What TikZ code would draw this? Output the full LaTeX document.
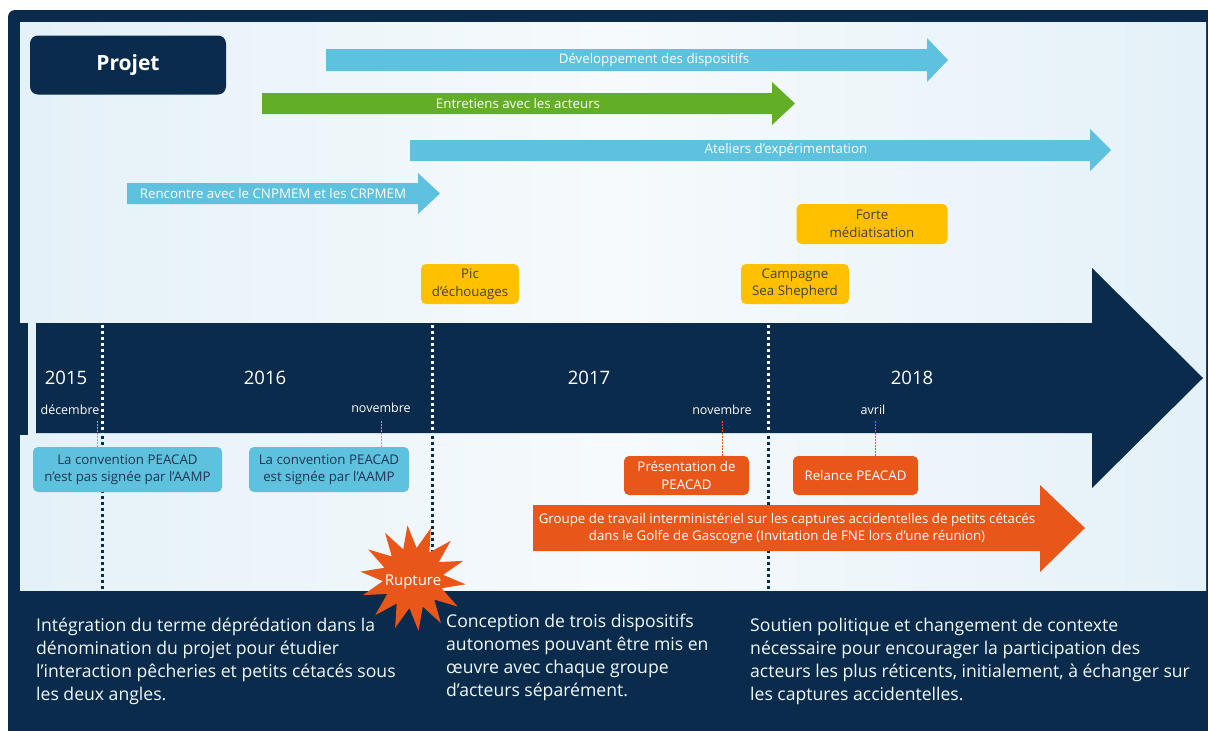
\documentclass[tikz,border=0pt]{standalone}
\usepackage{fontspec}
\setmainfont{Open Sans}
\usetikzlibrary{shapes.geometric, positioning}

\definecolor{navy}{HTML}{0A2B4C}
\definecolor{skyblue}{HTML}{5EC1DD}
\definecolor{leafgreen}{HTML}{63AE27}
\definecolor{sunyellow}{HTML}{FFC000}
\definecolor{burnt}{HTML}{E8561A}
\definecolor{panel}{HTML}{F6FAFC}
\definecolor{paneledge}{HTML}{E4F1F8}
\definecolor{boxtext}{HTML}{1F3552}

\begin{document}
\begin{tikzpicture}[x=1pt, y=-1pt]
    \tikzstyle{arrowtext} = [text=white, font=\fontsize{13.3}{17}\selectfont, inner sep=0, align=center]
    \tikzstyle{event} = [rounded corners=5pt, align=center, font=\fontsize{13.3}{17.5}\selectfont, inner sep=0]
    \tikzstyle{blueevent} = [event, fill=skyblue, text=boxtext, minimum height=45]
    \tikzstyle{yellowevent} = [event, fill=sunyellow, text=black!75, minimum height=40]
    \tikzstyle{orangeevent} = [event, fill=burnt, text=white, minimum height=39, minimum width=125]
    \tikzstyle{year} = [text=white, font=\fontsize{18.5}{21}\selectfont, inner sep=0]
    \tikzstyle{month} = [text=white, font=\fontsize{12.5}{14}\selectfont, inner sep=0]
    \tikzstyle{story} = [text=white!92!skyblue, align=left, anchor=base west, font=\fontsize{17.6}{23}\selectfont, inner sep=0]
    \tikzstyle{divider} = [line width=3pt, dash pattern=on 3pt off 3pt]
    \tikzstyle{bluelink} = [skyblue, line width=1pt, dash pattern=on 1.5pt off 1.5pt]
    \tikzstyle{orangelink} = [burnt, line width=1pt, dash pattern=on 1.5pt off 1.5pt]

    % frame, panel and timeline band
    \useasboundingbox (0,0) rectangle (1208,731);
    \fill[white] (0,0) rectangle (1208,731);
    \fill[navy] (8,731) [rounded corners=7pt] -- (8,10) [sharp corners] -- (1208,10) -- (1208,731) -- cycle;
    \shade[left color=paneledge, right color=paneledge, middle color=panel] (20,22) rectangle (1206,590);
    \fill[navy] (20,323) rectangle (28,435);
    \fill[navy] (36,323) -- (1092,323) -- (1092,268) -- (1203,378) -- (1092,488) -- (1092,433) -- (36,433) -- cycle;

    \node[fill=navy, rounded corners=8pt, minimum width=196, minimum height=59, text=white, font=\bfseries\fontsize{21}{24}\selectfont] (projet) at (128,65) {Projet};

    % project arrows
    \fill[skyblue] (326,49) -- (927,49) -- (927,38) -- (948,60) -- (927,82) -- (927,71) -- (326,71) -- cycle;
    \node[arrowtext] (dev) at (654,60) {Développement des dispositifs};
    \fill[leafgreen] (262,93) -- (772,93) -- (772,82) -- (795,103.5) -- (772,125) -- (772,114) -- (262,114) -- cycle;
    \node[arrowtext] (entretiens) at (518,103.5) {Entretiens avec les acteurs};
    \fill[skyblue] (410,140) -- (1090,140) -- (1090,129) -- (1111,150) -- (1090,171) -- (1090,161) -- (410,161) -- cycle;
    \node[arrowtext] (ateliers) at (786,150) {Ateliers d’expérimentation};
    \fill[skyblue] (127,183) -- (418,183) -- (418,173) -- (440,193.5) -- (418,214) -- (418,204) -- (127,204) -- cycle;
    \node[arrowtext] (rencontre) at (273,193.5) {Rencontre avec le CNPMEM et les CRPMEM};

    % context events
    \node[yellowevent, minimum width=151] (forte) at (872,224) {Forte\\médiatisation};
    \node[yellowevent, minimum width=98] (pic) at (470,284) {Pic\\d’échouages};
    \node[yellowevent, minimum width=108] (campagne) at (795,284) {Campagne\\Sea Shepherd};

    % years and months
    \node[year] (y15) at (66,378) {2015};
    \node[year] (y16) at (265,378) {2016};
    \node[year] (y17) at (589,378) {2017};
    \node[year] (y18) at (912,378) {2018};
    \node[month] (dec) at (70,410) {décembre};
    \node[month] (nov16) at (381,408) {novembre};
    \node[month] (nov17) at (722,410) {novembre};
    \node[month] (avr) at (873,410) {avril};

    % dividers
    \foreach \x in {102, 432, 768} {
        \draw[divider, white] (\x,324.5) -- (\x,433);
        \draw[divider, navy] (\x,436) -- (\x,590);
    }

    % PEACAD events
    \node[blueevent, minimum width=189] (conv1) at (127.5,469.5) {La convention PEACAD\\n’est pas signée par l’AAMP};
    \node[blueevent, minimum width=160] (conv2) at (329,469.5) {La convention PEACAD\\est signée par l’AAMP};
    \node[orangeevent] (pres) at (686.5,475.5) {Présentation de\\PEACAD};
    \node[orangeevent] (relance) at (855.5,475.5) {Relance PEACAD};
    \coordinate (decfoot) at ([xshift=-2, yshift=-6]dec.south east);
    \draw[bluelink] (decfoot) -- (decfoot |- conv1.north);
    \draw[bluelink] ([yshift=-8]nov16.south) -- (nov16.south |- conv2.north);
    \draw[orangelink] ([yshift=-6]nov17.south) -- (nov17.south |- pres.north);
    \draw[orangelink] ([xshift=2, yshift=-6]avr.south) -- ([xshift=2]avr.south |- relance.north);

    \fill[burnt] (533,505) -- (1040,505) -- (1040,485) -- (1085,528) -- (1040,572) -- (1040,551) -- (533,551) -- cycle;
    \node[arrowtext] (groupe) at (787,528) {Groupe de travail interministériel sur les captures accidentelles de petits cétacés\\dans le Golfe de Gascogne (Invitation de FNE lors d’une réunion)};

    \node[star, star points=14, star point ratio=1.75, fill=burnt, minimum size=106, inner sep=0, shape border rotate=6,
          label={[text=white, font=\fontsize{15}{17}\selectfont, yshift=-4pt]center:Rupture}] (rupture) at (413,578) {};

    % outcomes
    \node[story] (s1) at (36,700) {Intégration du terme déprédation dans la\\dénomination du projet pour étudier\\l’interaction pêcheries et petits cétacés sous\\les deux angles.};
    \node[story] (s2) at (446,696) {Conception de trois dispositifs\\autonomes pouvant être mis en\\œuvre avec chaque groupe\\d’acteurs séparément.};
    \node[story] (s3) at (750,700) {Soutien politique et changement de contexte\\nécessaire pour encourager la participation des\\acteurs les plus réticents, initialement, à échanger sur\\les captures accidentelles.};
\end{tikzpicture}
\end{document}
